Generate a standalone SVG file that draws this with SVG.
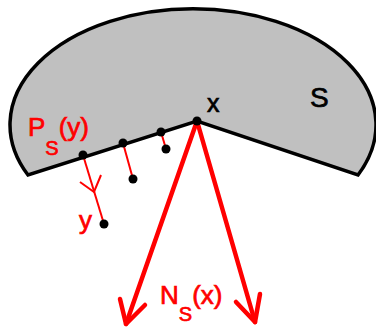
<svg xmlns="http://www.w3.org/2000/svg" width="376" height="328" viewBox="0 0 376 328">
  <style>
    .region { fill: #c0c0c0; stroke: #000; stroke-width: 3.5; stroke-linejoin: miter; }
    .pt { fill: #000; }
    .thin { fill: none; stroke: #ff0000; stroke-width: 2; }
    .thick { fill: none; stroke: #ff0000; stroke-width: 4.5; stroke-linecap: round; stroke-linejoin: round; }
    .lbl { font-family: "Liberation Sans", Arial, sans-serif; stroke-width: 0.7; }
    .red { fill: #ff0000; stroke: #ff0000; }
    .blk { fill: #000; stroke: #000; }
  </style>
  <g id="set-S">
    <path class="region" d="M 28 175 A 183 116 0 1 1 358 175 L 197 121 Z"/>
    <text class="lbl blk" x="310" y="107" font-size="28">S</text>
  </g>
  <g id="connectors">
    <line class="thin" x1="83" y1="155" x2="104" y2="224"/>
    <polyline class="thin" points="80,182 94,192 101,175"/>
    <line class="thin" x1="123" y1="143" x2="133" y2="179"/>
    <line class="thin" x1="161" y1="132" x2="166" y2="149"/>
    <line class="thick" x1="197" y1="121" x2="126" y2="324"/>
    <polyline class="thick" points="120,299 126,324 145,305"/>
    <line class="thick" x1="197" y1="121" x2="255" y2="322"/>
    <polyline class="thick" points="236,302 255,322 260,294"/>
  </g>
  <g id="point-x">
    <circle class="pt" cx="197" cy="121" r="4.5"/>
    <text class="lbl blk" x="207" y="112" font-size="25">x</text>
  </g>
  <g id="point-1">
    <circle class="pt" cx="83" cy="155" r="4.5"/>
    <circle class="pt" cx="104" cy="224" r="4.5"/>
  </g>
  <g id="point-2">
    <circle class="pt" cx="123" cy="143" r="4.5"/>
    <circle class="pt" cx="133" cy="179" r="4.5"/>
  </g>
  <g id="point-3">
    <circle class="pt" cx="161" cy="132" r="4.5"/>
    <circle class="pt" cx="166" cy="149" r="4.5"/>
  </g>
  <g id="label-Ps">
    <text class="lbl red" x="28" y="136" font-size="26">P<tspan font-size="20" dy="19">S</tspan><tspan dy="-19">(y)</tspan></text>
  </g>
  <g id="label-y">
    <text class="lbl red" x="79" y="229" font-size="26">y</text>
  </g>
  <g id="label-Ns">
    <text class="lbl red" x="160" y="304" font-size="26">N<tspan font-size="20" dy="17">S</tspan><tspan dy="-17">(x)</tspan></text>
  </g>
</svg>
